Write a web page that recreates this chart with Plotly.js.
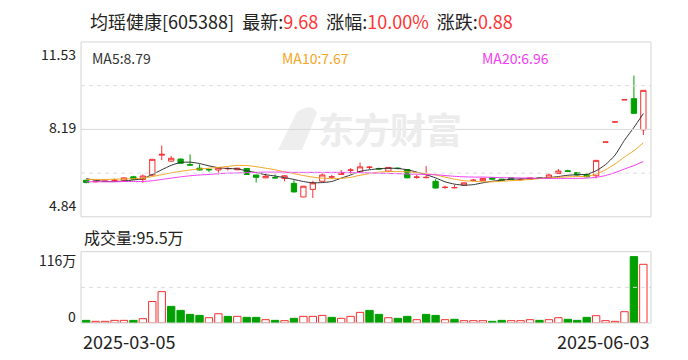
<!DOCTYPE html>
<html><head><meta charset="utf-8">
<script src="https://cdn.plot.ly/plotly-3.0.1.min.js"></script>
<style>html,body{margin:0;padding:0;background:#fff}#chart{width:688px;height:360px}</style>
</head><body><div id="chart"></div>
<script>
// ---------------- data ----------------
const dates = ['2025-03-05','2025-03-06','2025-03-07','2025-03-10','2025-03-11','2025-03-12','2025-03-13','2025-03-14','2025-03-17','2025-03-18','2025-03-19','2025-03-20','2025-03-21','2025-03-24','2025-03-25','2025-03-26','2025-03-27','2025-03-28','2025-03-31',
'2025-04-01','2025-04-02','2025-04-03','2025-04-07','2025-04-08','2025-04-09','2025-04-10','2025-04-11','2025-04-14','2025-04-15','2025-04-16','2025-04-17','2025-04-18','2025-04-21','2025-04-22','2025-04-23','2025-04-24','2025-04-25','2025-04-28','2025-04-29','2025-04-30',
'2025-05-06','2025-05-07','2025-05-08','2025-05-09','2025-05-12','2025-05-13','2025-05-14','2025-05-15','2025-05-16','2025-05-19','2025-05-20','2025-05-21','2025-05-22','2025-05-23','2025-05-26','2025-05-27','2025-05-28','2025-05-29','2025-05-30',
'2025-06-03'];
const openP = [6.24,6.18,6.19,6.22,6.24,6.37,6.27,6.44,7.20,6.97,
 7.05,6.84,6.70,6.65,6.63,6.68,6.64,6.69,6.44,6.33,
 6.34,6.31,6.12,5.60,5.89,6.20,6.36,6.46,6.62,6.56,
 6.73,6.69,6.59,6.70,6.65,6.35,6.34,6.20,5.96,5.95,
 6.05,6.23,6.22,6.33,6.28,6.33,6.26,6.27,6.33,6.33,
 6.50,6.60,6.53,6.46,6.41,7.70,8.47,9.32,9.36,8.17];
const highP = [6.27,6.22,6.22,6.30,6.34,6.41,6.46,7.04,7.57,7.17,
 7.06,7.23,6.85,6.69,6.73,6.74,6.71,6.70,6.45,6.50,
 6.46,6.42,6.24,6.02,6.22,6.52,6.44,6.63,6.70,6.92,
 6.78,6.72,6.74,6.73,6.66,6.44,6.78,6.28,6.03,6.06,
 6.15,6.29,6.32,6.35,6.29,6.34,6.31,6.34,6.36,6.50,
 6.67,6.64,6.55,6.50,7.00,7.70,8.47,9.32,10.24,9.68];
const lowP = [6.12,6.16,6.17,6.18,6.22,6.27,6.14,6.40,7.01,6.95,
 6.88,6.79,6.62,6.56,6.46,6.61,6.63,6.45,6.15,6.32,
 6.30,6.20,5.78,5.59,5.56,6.19,6.30,6.45,6.49,6.55,
 6.66,6.64,6.55,6.65,6.32,6.30,6.31,5.93,5.91,5.93,
 6.03,6.20,6.20,6.27,6.22,6.26,6.23,6.26,6.29,6.32,
 6.49,6.55,6.42,6.36,6.31,7.70,8.47,9.32,8.78,7.97];
const closeP = [6.15,6.20,6.21,6.24,6.33,6.28,6.40,7.04,7.23,7.08,
 6.89,6.82,6.63,6.64,6.72,6.69,6.70,6.46,6.35,6.39,
 6.33,6.41,5.79,6.01,6.14,6.44,6.37,6.53,6.63,6.75,
 6.74,6.67,6.73,6.69,6.33,6.36,6.35,5.94,5.97,5.96,
 6.14,6.24,6.31,6.28,6.23,6.27,6.27,6.33,6.32,6.44,
 6.59,6.58,6.44,6.37,7.00,7.70,8.47,9.32,8.80,9.68];
const prevClose0 = 6.20;
const volume = [4.3,2.7,2.7,4.3,4.3,4.3,7.0,35,51,27,
 20.5,14,12.4,8.6,15,10.8,10.8,9.2,9.2,5.4,
 4.3,3.8,7.6,10.8,10.8,12.4,9.2,7.6,10.8,17.3,
 20.5,14,8.6,7.6,10.8,5.4,14,12.4,5.4,6,
 3.8,3.8,3.8,2.7,4.3,3.8,3.8,5.4,4.3,5.4,
 8.6,6,4.3,9.2,11.9,3.8,2.7,18.4,108,95.5];
const ma5 = [6.30,6.24,6.19,6.19,6.21,6.25,6.30,6.46,6.64,6.81,
 6.92,6.93,6.88,6.79,6.72,6.69,6.67,6.60,6.53,6.45,
 6.40,6.34,6.27,6.19,6.14,6.15,6.19,6.32,6.44,6.58,
 6.64,6.68,6.70,6.69,6.64,6.55,6.45,6.33,6.18,6.09,
 6.05,6.07,6.14,6.20,6.24,6.28,6.29,6.30,6.31,6.34,
 6.38,6.43,6.45,6.47,6.60,6.84,7.20,7.77,8.26,8.79];
const ma10 = [6.27,6.27,6.27,6.28,6.29,6.30,6.32,6.38,6.45,6.52,
 6.58,6.63,6.67,6.70,6.73,6.77,6.81,6.80,6.76,6.70,
 6.64,6.56,6.49,6.42,6.36,6.32,6.30,6.31,6.35,6.43,
 6.49,6.55,6.57,6.57,6.56,6.53,6.49,6.44,6.36,6.28,
 6.22,6.20,6.18,6.18,6.20,6.22,6.24,6.27,6.30,6.33,
 6.35,6.37,6.38,6.39,6.47,6.64,6.86,7.13,7.37,7.67];
const ma20 = [6.18,6.18,6.18,6.18,6.19,6.19,6.19,6.22,6.27,6.32,
 6.37,6.41,6.44,6.46,6.49,6.51,6.52,6.53,6.54,6.55,
 6.55,6.55,6.54,6.54,6.54,6.54,6.54,6.54,6.54,6.53,
 6.52,6.51,6.50,6.49,6.48,6.47,6.46,6.45,6.42,6.39,
 6.37,6.36,6.36,6.35,6.34,6.33,6.33,6.32,6.32,6.31,
 6.31,6.31,6.31,6.32,6.35,6.42,6.53,6.67,6.80,6.96];
const maNames = ['MA5','MA10','MA20'];
const maLast = ['8.79','7.67','6.96'];
const priceTicks = [11.53, 8.19, 4.84];
const volTickLabels = ['116万','0'];
const volMax = 116;
const stockName = '均瑶健康', stockCode = '605388';
const latest = '9.68', pctChg = '10.00%', chg = '0.88', lastVol = '95.5万';

// ---------------- style ----------------
const RED = '#f52f2f', GREEN = '#00a000';
const MA_COLORS = ['#333333', '#f5a623', '#f23cf2'];
const FONT = '"Noto Sans CJK SC", "Noto Sans", sans-serif';
const W = 688, H = 360, L = 81, R = 651, T = 42, B = 323;
const px = v => (v - L) / (R - L);
const py = v => (B - v) / (B - T);
const mainBottom = py(216.8);
const volTop = py(251.7);

const idx = dates.map((d, i) => i);
const volUp = closeP.map((c, i) => c >= (i === 0 ? prevClose0 : closeP[i - 1]));

const traces = [];
maNames.forEach((n, k) => {
  traces.push({type:'scatter', mode:'lines', x: idx, y: [ma5, ma10, ma20][k],
    line:{color: MA_COLORS[k], width: 1, shape:'spline', smoothing:0.6}, hoverinfo:'skip', xaxis:'x', yaxis:'y'});
});
traces.push({type:'candlestick', x: idx, open: openP, high: highP, low: lowP, close: closeP,
  xaxis:'x', yaxis:'y', whiskerwidth: 0, hoverinfo:'skip',
  increasing:{line:{color: RED, width: 1}, fillcolor:'#ffffff'},
  decreasing:{line:{color: GREEN, width: 1}, fillcolor: GREEN}});
traces.push({type:'bar', x: idx, y: volume, xaxis:'x', yaxis:'y2', width: 0.78,
  marker:{color: volUp.map(u => u ? '#ffffff' : GREEN),
          line:{color: volUp.map(u => u ? RED : GREEN), width: 1}}, hoverinfo:'skip'});

const pTop = priceTicks[0], pBot = priceTicks[2];
const gridVals = [0.75, 0.5, 0.25].map(f => pBot + (pTop - pBot) * f);
const shapes = [
  {type:'line', xref:'paper', yref:'y', x0:0, x1:1, y0:gridVals[0], y1:gridVals[0], line:{color:'#dcdcdc', width:1, dash:'4px,4px'}},
  {type:'line', xref:'paper', yref:'y', x0:0, x1:1, y0:gridVals[1], y1:gridVals[1], line:{color:'#d8d8d8', width:1}},
  {type:'line', xref:'paper', yref:'y', x0:0, x1:1, y0:gridVals[2], y1:gridVals[2], line:{color:'#dcdcdc', width:1, dash:'4px,4px'}},
  {type:'line', xref:'paper', yref:'y2', x0:0, x1:1, y0:volMax/2, y1:volMax/2, line:{color:'#dcdcdc', width:1, dash:'4px,4px'}},
  {type:'rect', xref:'paper', yref:'paper', x0:0, x1:1, y0:mainBottom, y1:1, line:{color:'#d4d4d4', width:1}},
  {type:'rect', xref:'paper', yref:'paper', x0:0, x1:1, y0:0, y1:volTop, line:{color:'#d4d4d4', width:1}},
  // watermark logo swoosh
  {type:'path', xref:'paper', yref:'paper', layer:'below', fillcolor:'#eeeeee', line:{width:0},
   path:`M ${px(278)} ${py(150)} L ${px(297)} ${py(112)} Q ${px(312)} ${py(102)} ${px(317)} ${py(113)} L ${px(302)} ${py(150)} Z`}
];

const red = s => `<span style="color:#ff3333">${s}</span>`;
const sp = '\u00a0\u00a0';
const ann = [];
ann.push({xref:'paper', yref:'paper', x:px(88), y:py(21), xanchor:'left', yanchor:'middle', showarrow:false,
  text:`${stockName}[${stockCode}]${sp}最新:${red(latest)}${sp}涨幅:${red(pctChg)}${sp}涨跌:${red(chg)}`,
  font:{family:FONT, size:18, color:'#222'}});
[90, 280, 480].forEach((x, k) => ann.push({xref:'paper', yref:'paper', x:px(x), y:py(58), xanchor:'left', yanchor:'middle',
  showarrow:false, text:`${maNames[k]}:${maLast[k]}`, font:{family:FONT, size:14, color:MA_COLORS[k]}}));
[54, 127, 205].forEach((y, k) => ann.push({xref:'paper', yref:'paper', x:px(78), y:py(y), xanchor:'right', yanchor:'middle',
  showarrow:false, text: priceTicks[k].toFixed(2), font:{family:FONT, size:14, color:'#222'}}));
ann.push({xref:'paper', yref:'paper', x:px(82), y:py(237), xanchor:'left', yanchor:'middle', showarrow:false,
  text:`成交量:${lastVol}`, font:{family:FONT, size:16, color:'#222'}});
[260, 316].forEach((y, k) => ann.push({xref:'paper', yref:'paper', x:px(78), y:py(y), xanchor:'right', yanchor:'middle',
  showarrow:false, text: volTickLabels[k], font:{family:FONT, size:14, color:'#222'}}));
ann.push({xref:'paper', yref:'paper', x:px(81), y:py(341), xanchor:'left', yanchor:'middle', showarrow:false,
  text: dates[0], font:{family:FONT, size:18, color:'#222'}});
ann.push({xref:'paper', yref:'paper', x:px(651), y:py(341), xanchor:'right', yanchor:'middle', showarrow:false,
  text: dates[dates.length-1], font:{family:FONT, size:18, color:'#222'}});
ann.push({xref:'paper', yref:'paper', x:px(390), y:py(128), xanchor:'center', yanchor:'middle', showarrow:false,
  text:'<b>东方财富</b>', font:{family:FONT, size:36, color:'#ececec'}});

const layout = {
  width: W, height: H, margin:{l:L, r:W-R, t:T, b:H-B, pad:0},
  paper_bgcolor:'#ffffff', plot_bgcolor:'#ffffff', showlegend:false, boxgap:0.2,
  xaxis:{range:[-0.55, 59.81], showgrid:false, zeroline:false, showticklabels:false, ticks:'', showline:false,
         anchor:'y2', rangeslider:{visible:false}, fixedrange:true},
  yaxis:{domain:[mainBottom, 1], range:[pBot, pTop], showgrid:false, zeroline:false, showticklabels:false, ticks:'', fixedrange:true},
  yaxis2:{domain:[0, volTop], range:[0, volMax], showgrid:false, zeroline:false, showticklabels:false, ticks:'', fixedrange:true},
  shapes: shapes, annotations: ann
};
Plotly.newPlot('chart', traces, layout, {staticPlot:true, displayModeBar:false});
</script></body></html>
